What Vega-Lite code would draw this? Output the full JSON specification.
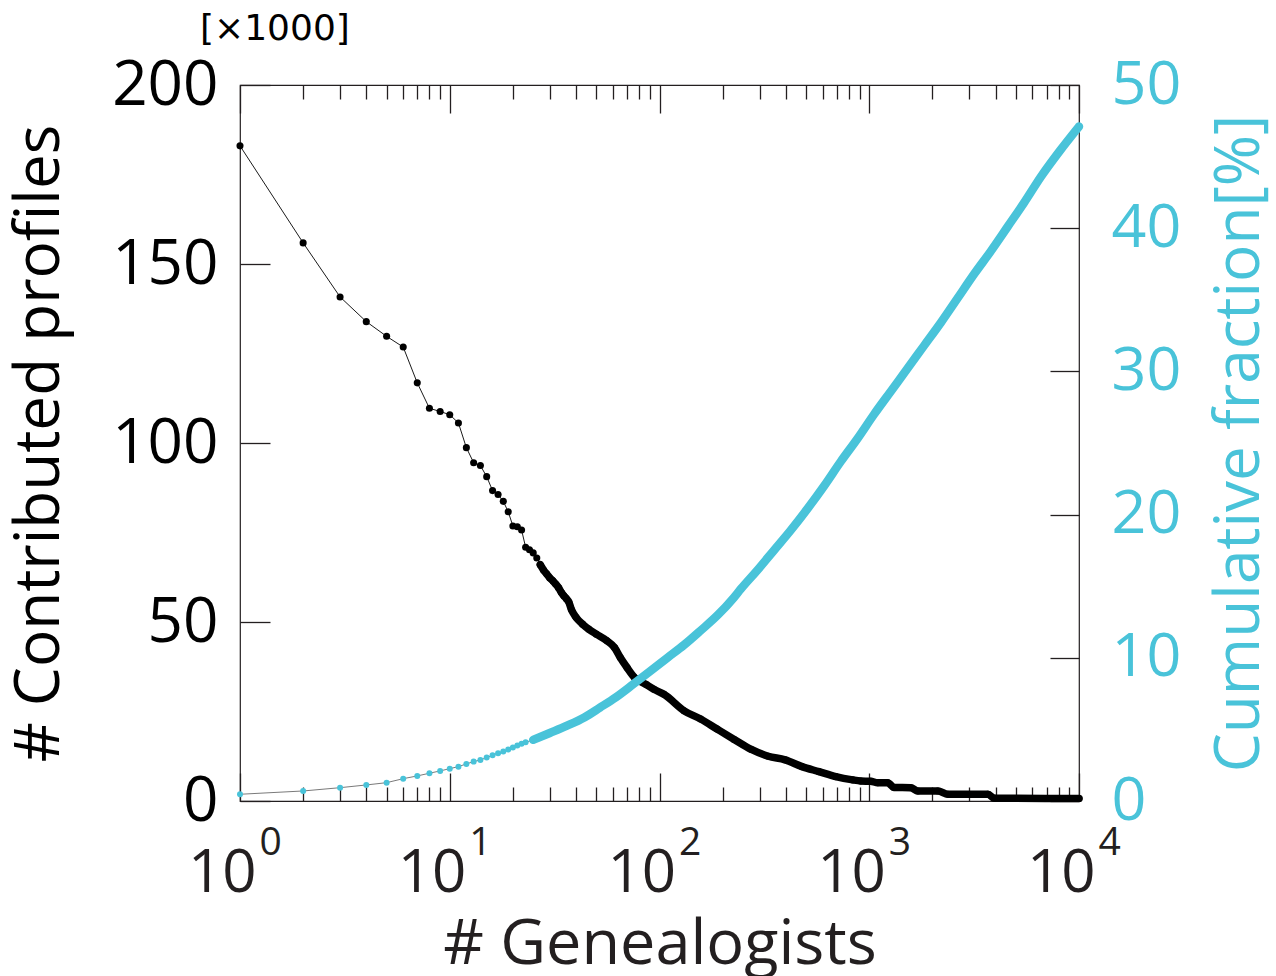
{
  "$schema": "https://vega.github.io/schema/vega-lite/v6.json",
  "width": 839,
  "height": 716,
  "autosize": "none",
  "padding": {"left": 240, "top": 85, "right": 197, "bottom": 175},
  "background": "white",
  "config": {
    "view": {"stroke": "#231f20", "strokeWidth": 1.2},
    "axis": {"domain": false, "grid": false, "labelFont": "Open Sans", "titleFont": "Open Sans", "titleFontWeight": "normal", "tickColor": "#231f20", "tickWidth": 1.3, "labelFlush": false, "labelOverlap": false}
  },
  "title": {"text": "[×1000]", "anchor": "start", "frame": "group", "dx": -40, "offset": 6, "fontSize": 36, "font": "DejaVu Sans", "fontWeight": "normal", "color": "black"},
  "datasets": {
    "profiles": [
      {"rank": 1, "profiles": 183000}, {"rank": 2, "profiles": 155900}, {"rank": 3, "profiles": 140800},
      {"rank": 4, "profiles": 133900}, {"rank": 5, "profiles": 129800}, {"rank": 6, "profiles": 126800},
      {"rank": 7, "profiles": 116800}, {"rank": 8, "profiles": 109700}, {"rank": 9, "profiles": 108800},
      {"rank": 10, "profiles": 107900}, {"rank": 11, "profiles": 105600}, {"rank": 12, "profiles": 98700},
      {"rank": 13, "profiles": 94500}, {"rank": 14, "profiles": 93700}, {"rank": 15, "profiles": 90600},
      {"rank": 16, "profiles": 86700}, {"rank": 17, "profiles": 85600}, {"rank": 18, "profiles": 83700},
      {"rank": 19, "profiles": 80800}, {"rank": 20, "profiles": 76800}, {"rank": 21, "profiles": 76600},
      {"rank": 22, "profiles": 75700}, {"rank": 23, "profiles": 70900}, {"rank": 24, "profiles": 70200},
      {"rank": 25, "profiles": 69300}, {"rank": 26, "profiles": 67900}, {"rank": 27, "profiles": 66000},
      {"rank": 28, "profiles": 64500}, {"rank": 29, "profiles": 63400}, {"rank": 30, "profiles": 62300},
      {"rank": 31, "profiles": 61500}, {"rank": 32, "profiles": 60600}, {"rank": 33, "profiles": 59600},
      {"rank": 34, "profiles": 58300}, {"rank": 35, "profiles": 57300}, {"rank": 36, "profiles": 56500},
      {"rank": 37, "profiles": 55500}, {"rank": 38, "profiles": 53500}, {"rank": 40, "profiles": 51300},
      {"rank": 43, "profiles": 49400}, {"rank": 46, "profiles": 48000}, {"rank": 50, "profiles": 46600},
      {"rank": 56, "profiles": 44800}, {"rank": 61, "profiles": 42900}, {"rank": 65, "profiles": 40100},
      {"rank": 70, "profiles": 37300}, {"rank": 76, "profiles": 34500}, {"rank": 86, "profiles": 32600},
      {"rank": 94, "profiles": 31200}, {"rank": 105, "profiles": 29800}, {"rank": 131, "profiles": 25200},
      {"rank": 157, "profiles": 22900}, {"rank": 188, "profiles": 20100}, {"rank": 227, "profiles": 17200},
      {"rank": 274, "profiles": 14400}, {"rank": 330, "profiles": 12500}, {"rank": 397, "profiles": 11500},
      {"rank": 478, "profiles": 9600}, {"rank": 576, "profiles": 8200}, {"rank": 693, "profiles": 6800},
      {"rank": 834, "profiles": 5900}, {"rank": 910, "profiles": 5600}, {"rank": 1016, "profiles": 5500},
      {"rank": 1098, "profiles": 5100}, {"rank": 1225, "profiles": 5100}, {"rank": 1309, "profiles": 3800},
      {"rank": 1578, "profiles": 3700}, {"rank": 1705, "profiles": 2800}, {"rank": 2125, "profiles": 2800},
      {"rank": 2371, "profiles": 1900}, {"rank": 3680, "profiles": 1900}, {"rank": 3930, "profiles": 800},
      {"rank": 10000, "profiles": 700}
    ],
    "cumulative": [
      {"rank": 1, "fraction": 0.47}, {"rank": 2, "fraction": 0.70}, {"rank": 3, "fraction": 0.93},
      {"rank": 4, "fraction": 1.12}, {"rank": 5, "fraction": 1.28}, {"rank": 6, "fraction": 1.56},
      {"rank": 7, "fraction": 1.75}, {"rank": 8, "fraction": 1.94}, {"rank": 9, "fraction": 2.10},
      {"rank": 10, "fraction": 2.26}, {"rank": 11, "fraction": 2.40}, {"rank": 12, "fraction": 2.59},
      {"rank": 13, "fraction": 2.75}, {"rank": 14, "fraction": 2.87}, {"rank": 15, "fraction": 3.03},
      {"rank": 16, "fraction": 3.20}, {"rank": 17, "fraction": 3.34}, {"rank": 18, "fraction": 3.45},
      {"rank": 19, "fraction": 3.59}, {"rank": 20, "fraction": 3.73}, {"rank": 21, "fraction": 3.87},
      {"rank": 22, "fraction": 4.00}, {"rank": 23, "fraction": 4.10}, {"rank": 25, "fraction": 4.27},
      {"rank": 30, "fraction": 4.75}, {"rank": 36, "fraction": 5.24}, {"rank": 44, "fraction": 5.85},
      {"rank": 52, "fraction": 6.52}, {"rank": 62, "fraction": 7.25}, {"rank": 75, "fraction": 8.16},
      {"rank": 90, "fraction": 9.05}, {"rank": 109, "fraction": 10.0}, {"rank": 131, "fraction": 10.9},
      {"rank": 157, "fraction": 11.9}, {"rank": 190, "fraction": 13.0}, {"rank": 226, "fraction": 14.2},
      {"rank": 244, "fraction": 14.8}, {"rank": 292, "fraction": 16.1}, {"rank": 351, "fraction": 17.5},
      {"rank": 422, "fraction": 18.9}, {"rank": 507, "fraction": 20.4}, {"rank": 609, "fraction": 22.0},
      {"rank": 731, "fraction": 23.7}, {"rank": 878, "fraction": 25.3}, {"rank": 1054, "fraction": 27.0},
      {"rank": 1266, "fraction": 28.6}, {"rank": 1521, "fraction": 30.2}, {"rank": 1826, "fraction": 31.8},
      {"rank": 2193, "fraction": 33.4}, {"rank": 2634, "fraction": 35.1}, {"rank": 3163, "fraction": 36.8},
      {"rank": 3800, "fraction": 38.4}, {"rank": 4568, "fraction": 40.1}, {"rank": 5486, "fraction": 41.8},
      {"rank": 6588, "fraction": 43.6}, {"rank": 8100, "fraction": 45.4}, {"rank": 10000, "fraction": 47.1}
    ]
  },
  "layer": [
    {
      "data": {"name": "profiles"},
      "mark": {"type": "line", "color": "black", "strokeWidth": 0.9},
      "encoding": {
        "x": {"field": "rank", "type": "quantitative", "scale": {"type": "log", "domain": [1, 10000], "nice": false},
          "axis": {"orient": "bottom", "values": [1,2,3,4,5,6,7,8,9,10,20,30,40,50,60,70,80,90,100,200,300,400,500,600,700,800,900,1000,2000,3000,4000,5000,6000,7000,8000,9000,10000],
            "labels": false, "title": null,
            "tickSize": {"condition": {"test": "indexof([1,10,100,1000,10000], datum.value) >= 0", "value": -28}, "value": -14}}},
        "y": {"field": "profiles", "type": "quantitative", "scale": {"domain": [0, 200000], "nice": false},
          "axis": {"orient": "left", "values": [0, 50000, 100000, 150000, 200000], "labels": false, "tickSize": -30, "title": null}}
      }
    },
    {
      "data": {"name": "profiles"},
      "transform": [{"filter": "datum.rank >= 27"}],
      "mark": {"type": "line", "color": "black", "strokeWidth": 7.5, "strokeCap": "round", "strokeJoin": "round", "interpolate": "monotone"},
      "encoding": {
        "x": {"field": "rank", "type": "quantitative", "scale": {"type": "log", "domain": [1, 10000], "nice": false},
          "axis": {"orient": "bottom", "values": [1, 10, 100, 1000, 10000], "labelExpr": "'10'", "ticks": false,
            "labelAlign": "right", "labelOffset": 16, "labelBaseline": "top", "labelPadding": 43, "labelFontSize": 60, "labelColor": "#231f20",
            "title": "# Genealogists", "titleFontSize": 63, "titleColor": "#231f20", "titlePadding": 10}},
        "y": {"field": "profiles", "type": "quantitative", "scale": {"domain": [0, 200000], "nice": false},
          "axis": {"orient": "left", "values": [0, 50000, 100000, 150000, 200000], "ticks": false, "labelExpr": "'' + datum.value / 1000",
            "labelPadding": 22, "labelFontSize": 62, "labelColor": "black",
            "title": "# Contributed profiles", "titleFontSize": 62, "titleColor": "black", "titlePadding": 40}}
      }
    },
    {
      "data": {"name": "profiles"},
      "mark": {"type": "circle", "color": "black", "size": 50, "opacity": 1},
      "encoding": {
        "x": {"field": "rank", "type": "quantitative", "scale": {"type": "log", "domain": [1, 10000], "nice": false},
          "axis": {"orient": "bottom", "values": [1, 10, 100, 1000, 10000], "labelExpr": "'' + round(log(datum.value) / LN10)", "ticks": false,
            "labelAlign": "left", "labelOffset": 19, "labelBaseline": "top", "labelPadding": 22, "labelFontSize": 39, "labelColor": "#231f20", "title": null}},
        "y": {"field": "profiles", "type": "quantitative", "scale": {"domain": [0, 200000], "nice": false}, "axis": null}
      }
    },
    {
      "data": {"name": "cumulative"},
      "mark": {"type": "line", "color": "#7a7a7a", "strokeWidth": 1},
      "encoding": {
        "x": {"field": "rank", "type": "quantitative", "scale": {"type": "log", "domain": [1, 10000], "nice": false},
          "axis": {"orient": "top", "values": [1,2,3,4,5,6,7,8,9,10,20,30,40,50,60,70,80,90,100,200,300,400,500,600,700,800,900,1000,2000,3000,4000,5000,6000,7000,8000,9000,10000],
            "labels": false, "title": null,
            "tickSize": {"condition": {"test": "indexof([1,10,100,1000,10000], datum.value) >= 0", "value": -28}, "value": -14}}},
        "y": {"field": "fraction", "type": "quantitative", "scale": {"domain": [0, 50], "nice": false},
          "axis": {"orient": "right", "values": [0, 10, 20, 30, 40, 50], "labels": false, "tickSize": -29, "title": null}}
      }
    },
    {
      "data": {"name": "cumulative"},
      "transform": [{"filter": "datum.rank >= 25"}],
      "mark": {"type": "line", "color": "#49c3d9", "strokeWidth": 8.5, "strokeCap": "round", "strokeJoin": "round", "interpolate": "monotone"},
      "encoding": {
        "x": {"field": "rank", "type": "quantitative", "scale": {"type": "log", "domain": [1, 10000], "nice": false}, "axis": null},
        "y": {"field": "fraction", "type": "quantitative", "scale": {"domain": [0, 50], "nice": false},
          "axis": {"orient": "right", "values": [0, 10, 20, 30, 40, 50], "ticks": false,
            "labelPadding": 32, "labelFontSize": 61, "labelColor": "#49c3d9",
            "title": "Cumulative fraction[%]", "titleAngle": 270, "titleBaseline": "top", "titleFontSize": 62, "titleColor": "#49c3d9", "titlePadding": 29}}
      }
    },
    {
      "data": {"name": "cumulative"},
      "mark": {"type": "circle", "color": "#49c3d9", "size": 36, "opacity": 1},
      "encoding": {
        "x": {"field": "rank", "type": "quantitative", "scale": {"type": "log", "domain": [1, 10000], "nice": false}, "axis": null},
        "y": {"field": "fraction", "type": "quantitative", "scale": {"domain": [0, 50], "nice": false}, "axis": null}
      }
    }
  ],
  "resolve": {"scale": {"y": "independent"}, "axis": {"x": "independent", "y": "independent"}}
}
